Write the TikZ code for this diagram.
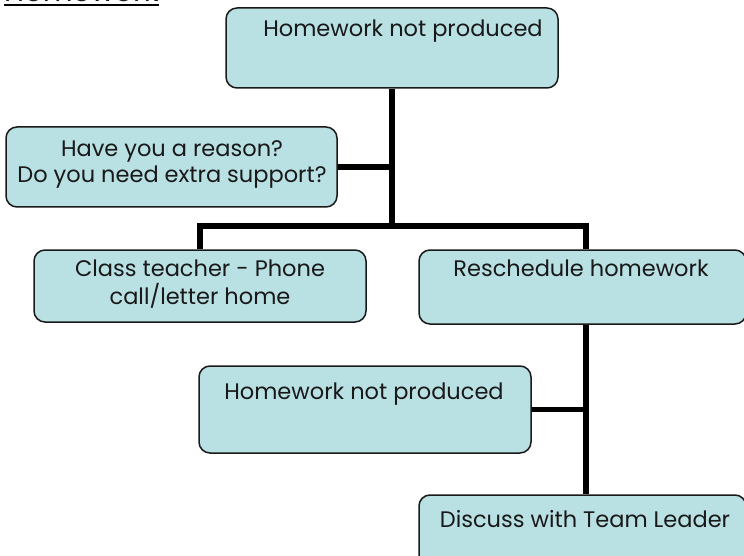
\documentclass[tikz,border=0pt]{standalone}
\usepackage{fontspec}
\setmainfont{Poppins}
\definecolor{boxfill}{RGB}{185,224,227}
\definecolor{txt}{RGB}{25,25,25}
\begin{document}
\begin{tikzpicture}[x=1pt,y=-1pt,
  box/.style={draw=black!90, line width=1.5pt, fill=boxfill, rounded corners=11pt, inner sep=0pt},
  lbl/.style={text=txt, font=\fontsize{22.5}{26}\selectfont, inner sep=0pt, anchor=base},
  conn/.style={draw=black, line width=5.5pt, line join=miter}]
\useasboundingbox (0,0) rectangle (744,556);
% title
\node[lbl, anchor=base west, font=\fontsize{29}{32}\selectfont] (title) at (4,2) {Homework};
\draw[line width=1.7pt] ([yshift=-3pt]title.base west) -- ([yshift=-3pt]title.base east);
% boxes
\node[box, minimum width=332pt, minimum height=80pt] (b1) at (392,48) {};
\node[box, minimum width=331pt, minimum height=80pt] (b2) at (171.5,167) {};
\node[box, minimum width=332pt, minimum height=72pt] (b3) at (200,286) {};
\node[box, minimum width=327pt, minimum height=74pt] (b4) at (582.5,287) {};
\node[box, minimum width=332pt, minimum height=87pt] (b5) at (365,409.5) {};
\node[box, minimum width=327pt, minimum height=80pt] (b6) at (582.5,535) {};
% texts
\node[lbl] (t1) at (403,37) {Homework not produced};
\node[lbl] (t2a) at (172,157) {Have you a reason?};
\node[lbl] (t2b) at (172,183) {Do you need extra support?};
\node[lbl] (t3a) at (200,276) {Class teacher - Phone};
\node[lbl] (t3b) at (200,304) {call/letter home};
\node[lbl] (t4) at (581,276) {Reschedule homework};
\node[lbl] (t5) at (364,399) {Homework not produced};
\node[lbl] (t6) at (585,527) {Discuss with Team Leader};
% connectors
\coordinate (j1) at (392,226);
\coordinate (d4) at (586,226);
\draw[conn] (b1.south) -- (j1);
\draw[conn] (b2.east) -- (b2.east -| j1);
\draw[conn] (b3.north) |- (d4) -- (d4 |- b4.north);
\draw[conn] (b4.south -| d4) -- (b6.north -| d4);
\draw[conn] (b5.east) -- (b5.east -| d4);
\end{tikzpicture}
\end{document}
